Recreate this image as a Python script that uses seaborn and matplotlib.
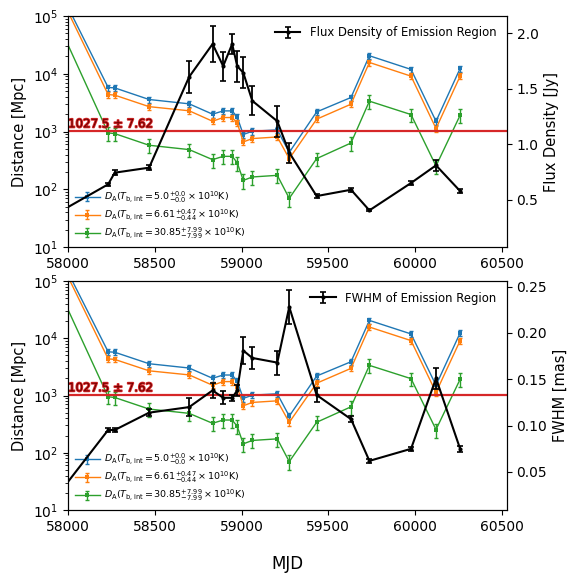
import matplotlib
matplotlib.use("Agg")
import matplotlib.pyplot as plt
import matplotlib.patheffects as pe
from matplotlib.lines import Line2D
import seaborn as sns

# ---------------- data ----------------
mjd = [57900, 58231, 58269, 58467, 58698, 58833, 58894, 58946, 58975, 59010,
       59062, 59206, 59275, 59433, 59631, 59737, 59977, 60121, 60260]

da_t50 = [560000, 5800, 5700, 3590, 3020, 2000, 2280, 2280, 1780, 888,
          1015, 1070, 437, 2190, 3890, 20500, 11900, 1510, 12400]
da_t50_err = [70000, 700, 700, 430, 360, 250, 280, 280, 220, 110,
              125, 130, 55, 270, 470, 2400, 1400, 190, 1500]

da_t661 = [490000, 4370, 4270, 2700, 2290, 1510, 1750, 1750, 1410, 662,
           757, 807, 340, 1640, 2980, 15700, 9100, 1130, 9100]
da_t661_err = [55000, 500, 490, 310, 270, 180, 200, 200, 165, 80,
               90, 95, 42, 190, 350, 1800, 1050, 135, 1050]

da_t3085 = [143000, 950, 923, 580, 488, 327, 373, 373, 290, 143,
            164, 175, 70, 341, 635, 3360, 1970, 254, 1920]
da_t3085_err = [38000, 250, 245, 155, 130, 88, 100, 100, 78, 40,
                45, 48, 20, 92, 170, 900, 530, 70, 520]

flux = [0.345, 0.639, 0.744, 0.789, 1.608, 1.904, 1.705, 1.904, 1.705, 1.645,
        1.392, 1.208, 0.925, 0.533, 0.590, 0.404, 0.651, 0.810, 0.578]
flux_err = [0.02, 0.015, 0.02, 0.02, 0.146, 0.16, 0.13, 0.09, 0.14, 0.14,
            0.13, 0.14, 0.09, 0.02, 0.02, 0.01, 0.015, 0.05, 0.015]

fwhm = [0.0154, 0.0953, 0.0953, 0.114, 0.120, 0.138, 0.130, 0.130, 0.138, 0.181,
        0.173, 0.168, 0.228, 0.133, 0.107, 0.062, 0.075, 0.151, 0.075]
fwhm_err = [0.002, 0.002, 0.002, 0.004, 0.010, 0.008, 0.007, 0.003, 0.006, 0.015,
            0.012, 0.013, 0.018, 0.008, 0.003, 0.002, 0.002, 0.011, 0.003]

da_ref = 1027.5
da_ref_err = 7.62

da_labels = [
    r'$D_{\rm A}(T_{\rm b,int}=5.0^{+0.0}_{-0.0}\times10^{10}{\rm K})$',
    r'$D_{\rm A}(T_{\rm b,int}=6.61^{+0.47}_{-0.44}\times10^{10}{\rm K})$',
    r'$D_{\rm A}(T_{\rm b,int}=30.85^{+7.99}_{-7.99}\times10^{10}{\rm K})$',
]
da_series = [(da_t50, da_t50_err), (da_t661, da_t661_err), (da_t3085, da_t3085_err)]
da_colors = ['#1f77b4', '#ff7f0e', '#2ca02c']

# ---------------- figure ----------------
fig = plt.figure(figsize=(5.72, 5.83), dpi=100)
left, right = 0.119, 0.886
ax_top = fig.add_axes([left, 0.576, right - left, 0.9726 - 0.576])
ax_bot = fig.add_axes([left, 0.1252, right - left, 0.518 - 0.1252])


def draw_da(ax):
    handles = []
    for (vals, errs), c, lab in zip(da_series, da_colors, da_labels):
        sns.lineplot(x=mjd, y=vals, ax=ax, color=c, marker='s', markersize=3,
                     markeredgewidth=0, linewidth=1, legend=False)
        eb = ax.errorbar(mjd, vals, yerr=errs, fmt='none', ecolor=c,
                         elinewidth=1, capsize=1.5, capthick=1)
        ln = Line2D([], [], color=c, marker='s', markersize=3,
                    markeredgewidth=0, linewidth=1)
        handles.append((ln, eb))
    ax.axhspan(da_ref - da_ref_err, da_ref + da_ref_err, color='#d62728', alpha=0.3, lw=0)
    ax.axhline(da_ref, color='#d62728', lw=1.6)
    ax.text(58000, da_ref * 1.02, f'{da_ref} ± {da_ref_err}', fontsize=8.5,
            color='#700000', ha='left', va='bottom',
            path_effects=[pe.withStroke(linewidth=1.3, foreground='#d62728')])
    ax.set_yscale('log')
    ax.set_ylim(10, 1e5)
    ax.set_xlim(58000, 60529)
    ax.set_ylabel('Distance [Mpc]', fontsize=10.5)
    ax.legend(handles=handles, labels=da_labels, loc='lower left', frameon=False,
              fontsize=6.8, labelspacing=0.3, handlelength=2.65,
              handletextpad=0.45, borderaxespad=0.3)


def draw_black(ax, vals, errs, label, ylabel, ylim):
    tw = ax.twinx()
    sns.lineplot(x=mjd, y=vals, ax=tw, color='black', marker='o', markersize=3,
                 markeredgewidth=0, linewidth=1.5, legend=False)
    eb = tw.errorbar(mjd, vals, yerr=errs, fmt='none', ecolor='black',
                     elinewidth=1.3, capsize=2.5, capthick=1.2)
    ln = Line2D([], [], color='black', marker='o', markersize=3,
                markeredgewidth=0, linewidth=1.5)
    tw.set_ylim(*ylim)
    tw.set_ylabel(ylabel, fontsize=10.5)
    tw.set_xlim(58000, 60529)
    tw.legend(handles=[(ln, eb)], labels=[label], loc='upper right',
              frameon=False, fontsize=8.4, handlelength=2.2)
    return tw


draw_da(ax_top)
tw_top = draw_black(ax_top, flux, flux_err, 'Flux Density of Emission Region',
                    'Flux Density [Jy]', (0.072, 2.157))
tw_top.set_yticks([0.5, 1.0, 1.5, 2.0])

draw_da(ax_bot)
tw_bot = draw_black(ax_bot, fwhm, fwhm_err, 'FWHM of Emission Region',
                    'FWHM [mas]', (0.009, 0.256))
tw_bot.set_yticks([0.05, 0.10, 0.15, 0.20, 0.25])

for ax in (ax_top, ax_bot):
    ax.set_xticks([58000, 58500, 59000, 59500, 60000, 60500])
    ax.tick_params(labelsize=10)
for tw in (tw_top, tw_bot):
    tw.tick_params(labelsize=10)

fig.text(0.503, 0.018, 'MJD', ha='center', va='bottom', fontsize=12)

fig.savefig('out.png', dpi=100)
